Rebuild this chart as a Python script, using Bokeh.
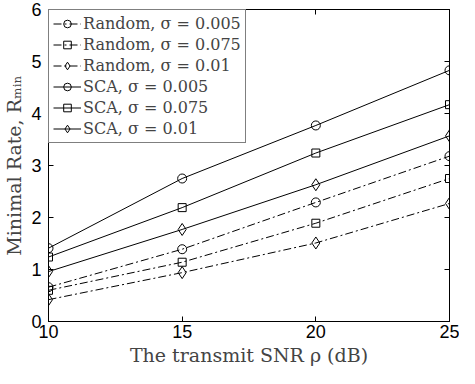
from bokeh.plotting import figure
from bokeh.models import LinearAxis, FixedTicker, Range1d, CustomLabelingPolicy
from bokeh.embed import file_html
from bokeh.resources import INLINE

snr = [10, 15, 20, 25]
x_ticks = [10, 15, 20, 25]
y_ticks = [0, 1, 2, 3, 4, 5, 6]

random_005 = [0.66, 1.39, 2.29, 3.18]
random_075 = [0.60, 1.14, 1.89, 2.75]
random_01 = [0.42, 0.94, 1.51, 2.27]
sca_005 = [1.41, 2.75, 3.77, 4.83]
sca_075 = [1.24, 2.19, 3.24, 4.17]
sca_01 = [0.96, 1.77, 2.63, 3.57]

series = [
    ("Random, σ = 0.005", random_005, "circle", "8 3 2 3"),
    ("Random, σ = 0.075", random_075, "square", "8 3 2 3"),
    ("Random, σ = 0.01", random_01, "diamond", "8 3 2 3"),
    ("SCA, σ = 0.005", sca_005, "circle", "solid"),
    ("SCA, σ = 0.075", sca_075, "square", "solid"),
    ("SCA, σ = 0.01", sca_01, "diamond", "solid"),
]
marker_size = {"circle": 9, "square": 8, "diamond": 12}

SERIF = "DejaVu Serif"
SANS = "Liberation Sans"

p = figure(width=459, height=368, output_backend="svg", toolbar_location=None,
           x_range=Range1d(10, 25), y_range=Range1d(0, 6),
           min_border_left=2, min_border_right=10, min_border_top=9, min_border_bottom=2)
p.grid.visible = False
p.outline_line_color = "black"
p.background_fill_color = "white"

for label, ys, marker, dash in series:
    p.line(snr, ys, line_color="black", line_width=1, line_dash=dash, legend_label=label)
    p.scatter(snr, ys, marker=marker, size=marker_size[marker], line_color="black",
              fill_color=None, line_width=1, legend_label=label)

hide_labels = CustomLabelingPolicy(code="for (const i of Array.from(indices)) { indices.unset(i) } return indices")

def style_axis(ax, ticks, show_labels=True):
    ax.ticker = FixedTicker(ticks=ticks)
    ax.major_tick_in = 5
    ax.major_tick_out = 0
    ax.minor_tick_line_color = None
    ax.axis_line_color = "black"
    ax.major_tick_line_color = "black"
    ax.major_label_text_font = SANS
    ax.major_label_text_font_size = "18px"
    ax.major_label_text_color = "black"
    ax.major_label_standoff = 5
    if not show_labels:
        ax.major_label_policy = hide_labels
        ax.major_label_standoff = 0
        ax.major_label_text_font_size = "1px"

style_axis(p.xaxis[0], x_ticks)
style_axis(p.yaxis[0], y_ticks)
p.xaxis[0].major_label_standoff = 3
p.yaxis[0].major_label_standoff = 7
p.xaxis.axis_label = "The transmit SNR ρ (dB)"
p.yaxis.axis_label = "Minimal Rate, Rₘᵢₙ"
for ax in (p.xaxis[0], p.yaxis[0]):
    ax.axis_label_text_font = SERIF
    ax.axis_label_text_font_size = "19px"
    ax.axis_label_text_font_style = "normal"
    ax.axis_label_standoff = 3

top = LinearAxis()
style_axis(top, x_ticks, show_labels=False)
p.add_layout(top, "above")
right = LinearAxis()
style_axis(right, y_ticks, show_labels=False)
p.add_layout(right, "right")

lg = p.legend[0]
lg.location = "top_left"
lg.margin = 0
lg.padding = 4
lg.spacing = 2
lg.glyph_width = 28
lg.glyph_height = 19
lg.label_height = 19
lg.label_standoff = 2
lg.label_text_font = SERIF
lg.label_text_font_size = "16px"
lg.border_line_color = "black"
lg.border_line_width = 1
lg.background_fill_alpha = 1

open("out.html", "w").write(file_html(p, INLINE))
